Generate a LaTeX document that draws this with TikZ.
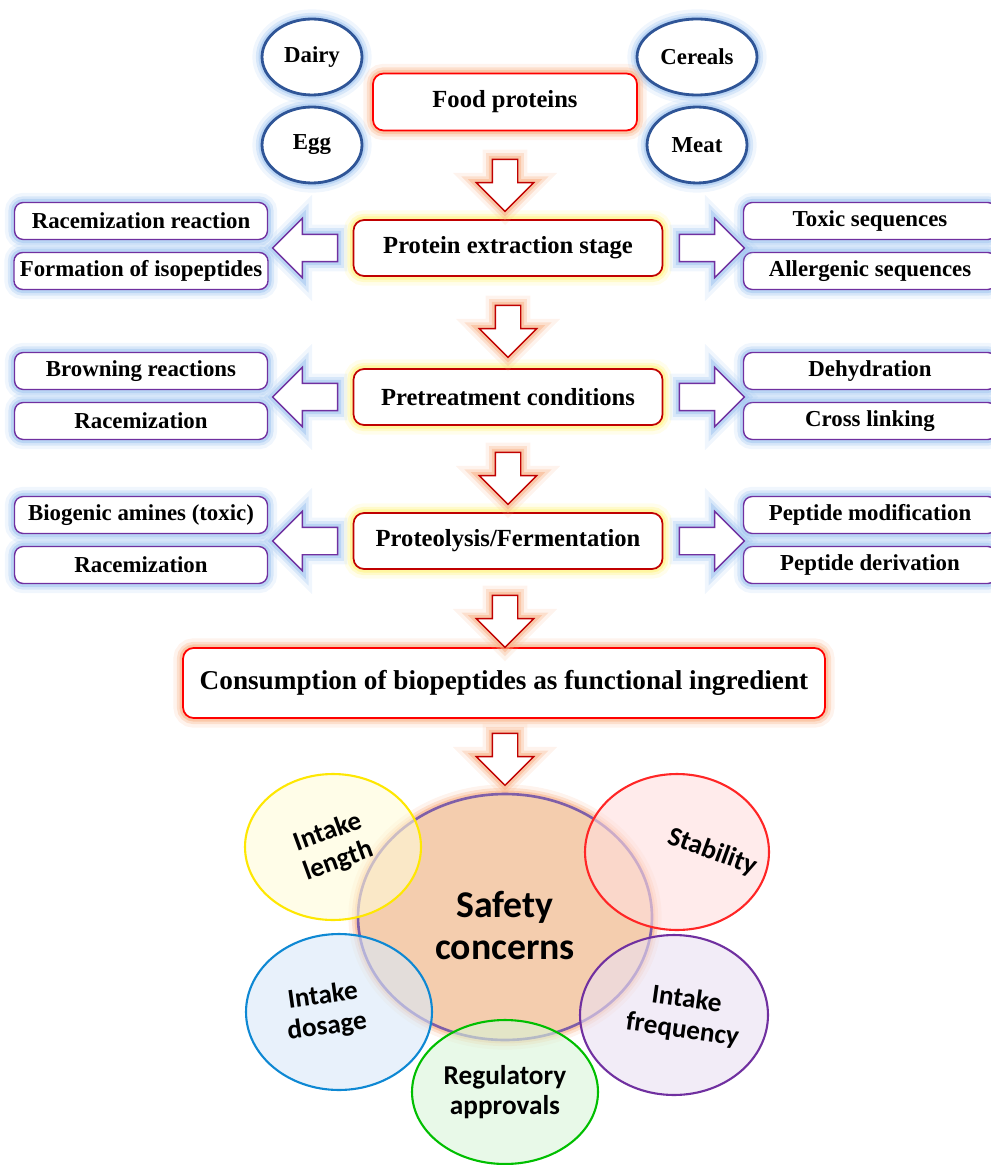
\documentclass[tikz,border=0pt]{standalone}
\usepackage{fontspec}
\setmainfont{Liberation Serif}
\newfontfamily\carlito{Carlito}
\usetikzlibrary{shapes.arrows,shapes.geometric}

\definecolor{boxred}{HTML}{FF0000}
\definecolor{darkred}{HTML}{C00000}
\definecolor{violet2}{HTML}{7030A0}
\definecolor{navy2}{HTML}{2F5597}
\definecolor{glowor}{HTML}{F8B084}
\definecolor{glowyel}{HTML}{FFF27A}
\definecolor{glowblue}{HTML}{9DC3F0}
\definecolor{safefill}{HTML}{F4CDAE}
\definecolor{safeline}{HTML}{7F5FA8}

\tikzset{
  glow/.style={preaction={draw=#1,line width=11pt,draw opacity=0.15},preaction={draw=#1,line width=7pt,draw opacity=0.3},preaction={draw=#1,line width=4pt,draw opacity=0.5}},
  txt/.style={font=\bfseries\fontsize{13}{15}\selectfont},
  big txt/.style={font=\bfseries\fontsize{14}{16}\selectfont},
  main box/.style={big txt,draw=boxred,line width=1pt,fill=white,rounded corners=6pt,minimum width=5.28cm,minimum height=1.14cm,glow=glowor},
  stage box/.style={big txt,draw=darkred,line width=1pt,fill=white,rounded corners=6pt,minimum width=6.18cm,minimum height=1.12cm,glow=glowyel},
  side box/.style={txt,draw=violet2,thick,fill=white,rounded corners=5pt,minimum width=5.06cm,minimum height=0.74cm,glow=glowblue},
  source node/.style={txt,ellipse,draw=navy2,line width=1.6pt,fill=white,minimum width=2cm,minimum height=1.52cm,glow=glowblue},
  down arrow/.style={single arrow,shape border rotate=270,draw=darkred,thick,fill=white,inner sep=0.24cm,single arrow head extend=0.32cm,minimum height=1.04cm,glow=glowor},
  side arrow/.style={single arrow,shape border rotate=#1,draw=violet2,thick,fill=white,inner sep=0.26cm,single arrow head extend=0.32cm,minimum height=1.3cm,glow=glowblue},
  concern/.style={ellipse,draw=#1,line width=1.2pt,fill=#1!15,fill opacity=0.6},
  concern text/.style={font=\carlito\bfseries\fontsize{15.5}{17.5}\selectfont,align=center}
}

\begin{document}
\begin{tikzpicture}[x=0.02cm,y=-0.02cm]
  \useasboundingbox (0,0) rectangle (990,1165);

  % sources
  \node[source node] (dairy) at (312,57) {Dairy};
  \node[source node] (egg) at (312,145) {Egg};
  \node[source node] (cereals) at (697,57) {Cereals};
  \node[source node] (meat) at (697,145) {Meat};
  \node[main box] (food) at (505,102) {Food proteins};

  % stages
  \node[stage box] (extract) at (508,248) {Protein extraction stage};
  \node[stage box] (pretreat) at (508,397) {Pretreatment conditions};
  \node[stage box] (proteo) at (508,541) {Proteolysis/Fermentation};
  \node[main box,minimum width=12.84cm,minimum height=1.4cm,font=\bfseries\fontsize{15.5}{17}\selectfont] (consume) at (504,683) {Consumption of biopeptides as functional ingredient};

  \node[down arrow] (d1) at (505,179) {};
  \node[down arrow] (d2) at (508,325) {};
  \node[down arrow] (d3) at (508,472) {};
  \node[down arrow] (d4) at (505,615) {};
  \node[down arrow] (d5) at (505,753) {};

  % side effects
  \node[side box] (race1) at (141,221) {Racemization reaction};
  \node[side box] (iso) at (141,271) {Formation of isopeptides};
  \node[side box] (brown) at (141,371) {Browning reactions};
  \node[side box] (race2) at (141,421) {Racemization};
  \node[side box] (amine) at (141,515) {Biogenic amines (toxic)};
  \node[side box] (race3) at (141,565) {Racemization};
  \node[side box] (toxic) at (870,221) {Toxic sequences};
  \node[side box] (allerg) at (870,271) {Allergenic sequences};
  \node[side box] (dehyd) at (870,371) {Dehydration};
  \node[side box] (cross) at (870,421) {Cross linking};
  \node[side box] (pmod) at (870,515) {Peptide modification};
  \node[side box] (pder) at (870,565) {Peptide derivation};

  \foreach \y in {248,397,541}{
    \node[side arrow=180] at (312,\y) {};
    \node[side arrow=0] at (705,\y) {};
  }

  % safety concerns
  \node[ellipse,draw=safeline,line width=1.5pt,fill=safefill,minimum width=5.88cm,minimum height=4.92cm,glow=glowor] (safety) at (505,917) {};
  \node[concern=yellow!90!orange] (length) at (333,847) [minimum width=3.52cm,minimum height=2.92cm] {};
  \node[concern=red!85!white] (stab) at (677,852) [minimum width=3.68cm,minimum height=3.12cm] {};
  \node[concern=cyan!70!blue] (dosage) at (339,1012) [minimum width=3.72cm,minimum height=3.12cm] {};
  \node[concern=violet2] (freq) at (674,1015) [minimum width=3.76cm,minimum height=3.2cm] {};
  \node[concern=green!75!black] (reg) at (505,1092) [minimum width=3.72cm,minimum height=2.88cm] {};

  \node[concern text,font=\carlito\bfseries\fontsize{21.5}{24}\selectfont] at ([yshift=-5pt]safety.center) {Safety\\concerns};
  \node[concern text,rotate=20] at (length.center) {Intake\\length};
  \node[concern text,rotate=-20] at ([xshift=20]stab.center) {Stability};
  \node[concern text,rotate=8] at ([xshift=-8]dosage.center) {Intake\\dosage};
  \node[concern text,rotate=-8] at ([xshift=6]freq.center) {Intake\\frequency};
  \node[concern text] at (reg.center) {Regulatory\\approvals};
\end{tikzpicture}
\end{document}
